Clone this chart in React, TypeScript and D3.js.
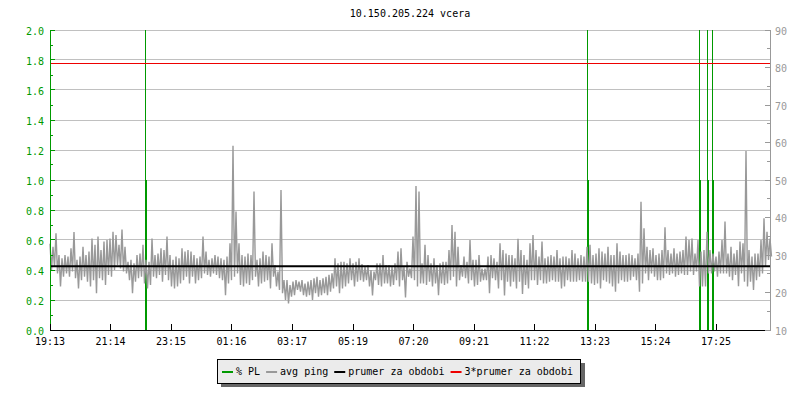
import React from "react";
import * as d3 from "d3";

const title = "10.150.205.224 vcera";
const xTickLabels = ["19:13", "21:14", "23:15", "01:16", "03:17", "05:19", "07:20", "09:21", "11:22", "13:23", "15:24", "17:25"];
const leftTicks = [0, 0.2, 0.4, 0.6, 0.8, 1.0, 1.2, 1.4, 1.6, 1.8, 2.0];
const leftMinorTicks = [0.1, 0.3, 0.5, 0.7, 0.9, 1.1, 1.3, 1.5, 1.7, 1.9];
const rightTicks = [10, 20, 30, 40, 50, 60, 70, 80, 90];
const rightMinorTicks = [15, 25, 35, 45, 55, 65, 75, 85];

// avg ping (ms): readings 3 minutes apart, starting at 19:13
const sampleStepMin = 3;
const avgPing = [
  33.0, 26.0, 32.2, 26.9, 35.8, 25.1, 30.0, 21.6, 29.1, 24.2, 30.0, 25.1, 29.6, 24.2, 31.8, 25.6,
  36.1, 23.8, 28.7, 21.1, 29.6, 23.3, 32.2, 24.2, 30.0, 22.9, 30.9, 21.6, 34.4, 23.3, 32.7, 19.8,
  34.9, 23.8, 31.3, 23.3, 33.6, 22.0, 34.0, 24.7, 34.4, 24.2, 36.2, 26.0, 35.3, 27.3, 32.7, 26.4,
  36.8, 25.6, 32.2, 25.1, 28.2, 23.3, 28.7, 19.8, 27.8, 22.9, 30.0, 23.8, 30.4, 24.2, 32.7, 22.4,
  28.7, 21.1, 28.2, 22.0, 34.4, 24.2, 30.0, 23.8, 30.4, 24.7, 31.8, 22.9, 31.3, 24.7, 34.9, 23.3,
  30.0, 21.6, 28.7, 21.1, 29.6, 21.6, 29.1, 22.4, 31.8, 23.3, 30.9, 24.2, 31.3, 22.4, 30.9, 24.2,
  30.0, 22.4, 29.1, 23.3, 29.6, 23.8, 34.9, 25.1, 30.9, 24.7, 28.7, 24.2, 29.1, 25.1, 30.0, 24.7,
  29.6, 23.8, 29.1, 23.3, 28.7, 19.3, 29.6, 22.4, 33.1, 23.3, 59.1, 24.2, 41.6, 25.1, 33.1, 22.0,
  30.0, 21.6, 29.6, 22.4, 30.4, 22.0, 30.0, 23.3, 46.9, 24.2, 28.7, 21.6, 29.1, 22.4, 30.9, 22.9,
  30.0, 23.3, 29.6, 21.1, 33.1, 24.2, 27.3, 21.6, 25.6, 20.7, 47.3, 19.8, 23.3, 18.0, 23.3, 17.1,
  22.0, 18.9, 22.9, 19.3, 23.3, 20.7, 22.9, 20.2, 23.3, 19.3, 22.4, 18.9, 22.9, 19.3, 23.3, 18.0,
  23.8, 19.8, 24.2, 18.9, 23.3, 19.3, 23.8, 19.8, 24.2, 19.3, 24.7, 20.2, 25.1, 21.1, 29.1, 21.6,
  27.8, 19.8, 28.2, 21.1, 28.2, 21.6, 27.8, 22.4, 29.1, 23.3, 27.8, 21.6, 28.2, 22.9, 29.1, 23.3,
  27.6, 22.9, 26.9, 23.3, 27.3, 21.6, 26.0, 19.2, 25.6, 23.3, 27.8, 22.0, 27.8, 21.6, 30.0, 22.4,
  27.3, 22.4, 27.3, 21.6, 26.9, 22.0, 27.8, 23.3, 30.9, 21.6, 31.8, 23.3, 26.9, 18.7, 28.2, 24.2,
  26.4, 23.8, 34.9, 23.3, 48.4, 21.6, 46.9, 22.4, 27.8, 22.4, 32.7, 22.0, 30.0, 22.9, 27.8, 21.6,
  29.1, 22.4, 27.3, 19.3, 27.8, 22.4, 28.2, 22.0, 28.2, 22.4, 31.3, 23.3, 38.0, 24.2, 36.2, 21.6,
  32.2, 23.3, 27.3, 24.2, 29.6, 23.8, 28.2, 22.4, 34.0, 23.3, 28.7, 21.6, 28.7, 22.0, 30.0, 22.9,
  26.4, 23.3, 26.4, 23.3, 29.6, 19.8, 30.0, 23.8, 29.1, 23.3, 28.2, 21.1, 33.1, 23.3, 31.3, 19.2,
  30.4, 22.9, 30.0, 21.6, 30.0, 22.9, 29.1, 21.1, 34.3, 22.9, 31.3, 19.6, 30.0, 22.0, 28.7, 21.1,
  33.1, 23.3, 35.3, 23.3, 31.3, 22.0, 29.6, 23.3, 33.6, 22.4, 29.1, 22.4, 29.6, 22.9, 30.0, 23.3,
  29.6, 22.9, 31.3, 22.9, 29.1, 21.1, 29.6, 21.6, 29.6, 23.3, 29.1, 22.9, 31.3, 22.9, 30.4, 22.9,
  29.1, 23.3, 30.0, 22.9, 29.6, 22.9, 32.2, 22.9, 32.7, 22.4, 30.0, 22.0, 30.4, 22.4, 31.8, 21.1,
  30.9, 23.3, 30.4, 22.9, 32.2, 22.4, 30.0, 21.6, 30.0, 20.2, 33.1, 22.4, 30.9, 23.3, 30.0, 22.9,
  30.0, 22.9, 30.4, 23.3, 30.0, 24.2, 29.1, 23.3, 30.4, 20.2, 44.2, 22.4, 37.1, 25.1, 32.2, 23.3,
  31.3, 25.1, 31.8, 24.2, 30.0, 23.3, 30.4, 23.3, 31.3, 23.8, 37.4, 25.1, 31.3, 24.7, 30.4, 25.1,
  31.8, 24.2, 30.4, 24.7, 30.9, 25.1, 31.3, 24.7, 34.9, 24.7, 34.0, 25.6, 34.4, 24.7, 30.4, 25.6,
  34.0, 21.6, 30.9, 21.6, 31.3, 21.6, 36.2, 25.1, 31.3, 25.1, 30.4, 25.6, 29.6, 24.2, 30.9, 25.1,
  34.0, 25.1, 38.9, 25.1, 30.4, 24.2, 32.2, 23.3, 30.4, 24.7, 31.3, 21.7, 33.6, 25.1, 33.1, 22.9,
  57.7, 21.6, 31.3, 22.9, 29.6, 20.7, 30.4, 23.3, 30.4, 24.2, 34.0, 25.1, 39.8, 26.9, 36.2, 28.7,
  34.4, 29.6,
];

// packet loss events (minutes after 19:13)
const plMinutes = [192, 1076, 1300, 1316, 1326];
const plLevels = [1.0, 1.0, 1.0, 1.0, 1.0];
const plPeaks = [100, 100, 100, 100, 100];

const periodMean = 27.0;

const legendLabels = ["% PL", "avg ping", "prumer za obdobi", "3*prumer za obdobi"];
const legendColors = ["#009900", "#999999", "#000000", "#ee0000"];

const FONT = "'DejaVu Sans Mono', monospace";
const GREEN = "#009900";
const GRID = "#c0c0c0";

function labelToMinutes(lbl: string, start: string): number {
  const [h, m] = lbl.split(":").map(Number);
  const [h0, m0] = start.split(":").map(Number);
  let d = h * 60 + m - (h0 * 60 + m0);
  if (d < 0) d += 1440;
  return d;
}

export default function App() {
  const x = d3.scaleLinear().domain([0, 1440]).range([50, 770]);
  const yL = d3.scaleLinear().domain([0, 2]).range([330, 30]);
  const yR = d3.scaleLinear().domain([10, 90]).range([330, 30]);

  const pingLine = d3
    .line<number>()
    .x((_, i) => x(i * sampleStepMin))
    .y((d) => yR(d));

  const crisp = (v: number) => Math.floor(v) + 0.5;

  const charW = 6.02;
  let cursor = 222;
  const legendPos = legendLabels.map((lbl) => {
    const p = { sx: cursor, tx: cursor + 14 };
    cursor += 14.5 + lbl.length * charW + 5.5;
    return p;
  });

  const top = yL(2);

  return (
    <svg width={800} height={400} style={{ position: "absolute", left: 0, top: 0, background: "#fff" }} fontFamily={FONT} fontSize={10}>
      <rect x={0} y={0} width={800} height={400} fill="#fff" />
      <text x={410} y={17} textAnchor="middle" fill="#000">{title}</text>

      {leftTicks.map((t) => (
        <line key={"g" + t} x1={50} x2={770} y1={crisp(yL(t))} y2={crisp(yL(t))} stroke={GRID} strokeWidth={1} />
      ))}

      {plMinutes.map((m, i) => {
        const cx = Math.round(x(m));
        const yLevel = yL(plLevels[i]);
        const yPeak = Math.max(top, yL(plPeaks[i]));
        return (
          <g key={"pl" + i} shapeRendering="crispEdges">
            <rect x={cx - 1} y={yPeak} width={1} height={yLevel - yPeak} fill={GREEN} />
            <rect x={cx - 1} y={yLevel} width={2} height={yL(0) - yLevel} fill={GREEN} />
          </g>
        );
      })}

      <path d={pingLine(avgPing) || ""} fill="none" stroke="#999999" strokeWidth={1.4} strokeLinejoin="miter" strokeMiterlimit={2} />

      <line x1={50} x2={770} y1={yR(periodMean)} y2={yR(periodMean)} stroke="#000" strokeWidth={2} />
      <line x1={50} x2={770} y1={crisp(yR(periodMean * 3))} y2={crisp(yR(periodMean * 3))} stroke="#ee0000" strokeWidth={1} />

      <line x1={50.5} x2={50.5} y1={30} y2={330} stroke={GREEN} />
      {leftTicks.map((t) => (
        <g key={"lt" + t}>
          <line x1={50} x2={55} y1={crisp(yL(t))} y2={crisp(yL(t))} stroke={GREEN} />
          <text x={44} y={yL(t) + 4.5} textAnchor="end" fill={GREEN}>{t.toFixed(1)}</text>
        </g>
      ))}
      {leftMinorTicks.map((t) => (
        <line key={"lm" + t} x1={50} x2={53} y1={crisp(yL(t))} y2={crisp(yL(t))} stroke={GREEN} />
      ))}

      <line x1={770.5} x2={770.5} y1={30} y2={330} stroke="#999999" />
      {rightTicks.map((t) => (
        <g key={"rt" + t}>
          <line x1={765} x2={771} y1={crisp(yR(t))} y2={crisp(yR(t))} stroke="#999999" />
          <text x={775} y={yR(t) + 4.5} textAnchor="start" fill="#999999">{t}</text>
        </g>
      ))}
      {rightMinorTicks.map((t) => (
        <line key={"rm" + t} x1={767} x2={771} y1={crisp(yR(t))} y2={crisp(yR(t))} stroke="#999999" />
      ))}

      <line x1={50} x2={765} y1={330.5} y2={330.5} stroke="#000" />
      {xTickLabels.map((lbl) => {
        const m = labelToMinutes(lbl, xTickLabels[0]);
        const px = crisp(x(m));
        return (
          <g key={"xt" + lbl}>
            <line x1={px} x2={px} y1={324} y2={330} stroke="#000" />
            <text x={x(m)} y={345} textAnchor="middle" fill="#000">{lbl}</text>
          </g>
        );
      })}

      <rect x={221} y={363} width={364} height={24} fill="#666666" />
      <rect x={217.5} y={359.5} width={363} height={24} fill="#ebebeb" stroke="#000" strokeWidth={1} />
      {legendLabels.map((lbl, i) => (
        <g key={"lg" + i}>
          <line x1={legendPos[i].sx} x2={legendPos[i].sx + 11} y1={372} y2={372} stroke={legendColors[i]} strokeWidth={2} />
          <text x={legendPos[i].tx} y={374.5} fill="#000">{lbl}</text>
        </g>
      ))}
    </svg>
  );
}
